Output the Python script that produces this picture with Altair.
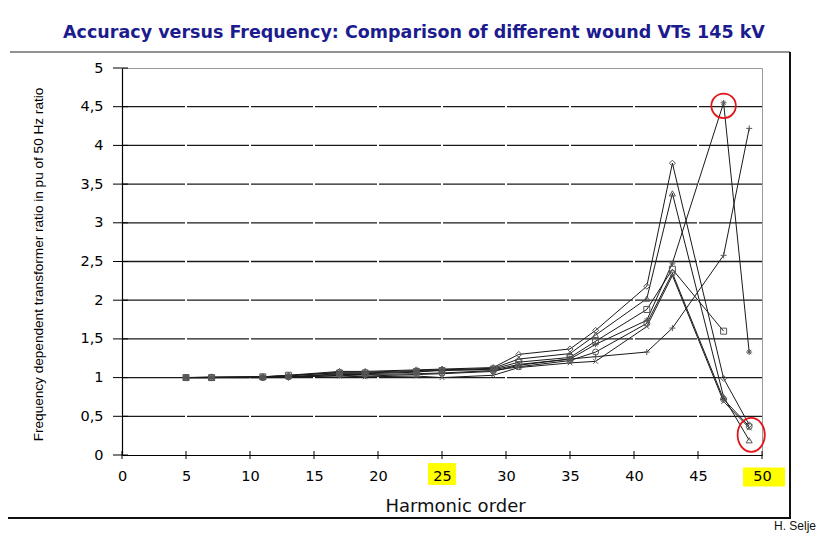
import altair as alt
import pandas as pd

# ---------------- data ----------------
harmonics = [5, 7, 11, 13, 17, 19, 23, 25, 29, 31, 35, 37, 41, 43, 47, 49]

series_names = ["A", "B", "C", "D", "E", "F", "G"]
vt_a = [1.00, 1.00, 1.00, 1.00, 1.03, 1.02, 1.04, 1.05, 1.08, 1.16, 1.24, 1.27, 1.33, 1.64, 2.58, 4.22]
vt_b = [1.00, 1.00, 1.01, 1.01, 1.05, 1.05, 1.07, 1.10, 1.10, 1.17, 1.24, 1.43, 1.74, 2.48, 4.55, 1.33]
vt_c = [1.00, 1.00, 1.01, 1.03, 1.06, 1.06, 1.08, 1.09, 1.11, 1.20, 1.26, 1.47, 1.88, 2.40, 1.60, None]
vt_d = [1.00, 1.01, 1.01, 1.03, 1.08, 1.08, 1.10, 1.11, 1.13, 1.30, 1.37, 1.61, 2.18, 3.77, 0.99, 0.39]
vt_e = [1.00, 1.00, 1.01, 1.02, 1.07, 1.07, 1.09, 1.10, 1.12, 1.24, 1.31, 1.55, 2.02, 3.38, 0.75, 0.19]
vt_f = [1.00, 1.00, 1.00, 1.01, 1.04, 1.04, 1.05, 1.06, 1.09, 1.14, 1.22, 1.33, 1.70, 2.35, 0.72, 0.37]
vt_g = [1.00, 1.00, 1.00, 1.01, 1.02, 1.01, 1.02, 1.00, 1.03, 1.13, 1.19, 1.21, 1.66, 2.32, 0.69, 0.35]
series_values = [vt_a, vt_b, vt_c, vt_d, vt_e, vt_f, vt_g]

x_ticks = [0, 5, 10, 15, 20, 25, 30, 35, 40, 45, 50]
y_ticks = [0, 0.5, 1, 1.5, 2, 2.5, 3, 3.5, 4, 4.5, 5]
grid_values = [0.5, 1, 1.5, 2, 2.5, 3, 3.5, 4, 4.5]
highlighted_labels = [25, 50]

title_text = "Accuracy versus Frequency: Comparison of different wound VTs 145 kV"
x_title = "Harmonic order"
y_title = "Frequency dependent transformer ratio in pu of 50 Hz ratio"
author = "H. Selje"

# ---------------- build tables ----------------
rows = []
for name, vals in zip(series_names, series_values):
    for h, v in zip(harmonics, vals):
        if v is not None:
            rows.append({"series": name, "h": h, "ratio": v})
df = pd.DataFrame(rows)

# circled annotations derived from the data
peak_b = df[(df.series == "B") & (df.h == 47)].ratio.iloc[0]
low49 = df[(df.h == 49) & (df.ratio < 1)].ratio.mean()
circ1 = pd.DataFrame({"h": [47], "ratio": [peak_b]})
circ2 = pd.DataFrame({"h": [49], "ratio": [low49]})

x_scale = alt.Scale(domain=[0, 50], nice=False)
y_scale = alt.Scale(domain=[0, 5], nice=False)

x_axis = alt.Axis(
    values=x_ticks, title=x_title, titleFont="DejaVu Sans", titleFontSize=18,
    titleFontWeight="normal", titleColor="#111111", titleX=333, titleY=51,
    titleBaseline="middle", titleAlign="center",
    labelFont="DejaVu Sans", labelFontSize=14.5, labelColor="black",
    labelPadding=21, labelBaseline="middle", labelFlush=False, labelOverlap=False,
    ticks=False, tickSize=0, grid=False, domainColor="black", domainWidth=1.2, zindex=1,
)
y_axis = alt.Axis(
    values=y_ticks, labelExpr="replace(format(datum.value, '.1~f'), '.', ',')",
    title=y_title, titleFont="Liberation Sans", titleFontSize=13.6, titleFontWeight="normal",
    titleColor="black", titleAngle=270, titleX=-84, titleY=196,
    titleBaseline="middle", titleAlign="center",
    labelFont="DejaVu Sans", labelFontSize=14.5, labelColor="black",
    labelPadding=19, labelOverlap=False, labelFlush=False,
    ticks=False, tickSize=0, grid=False, domainColor="black", domainWidth=1.2, zindex=1,
)


def X(field):
    return alt.X(field, scale=x_scale, axis=x_axis)


def Y(field):
    return alt.Y(field, scale=y_scale, axis=y_axis)


one = pd.DataFrame({"a": [0]})

# horizontal gridlines
hgrid = alt.Chart(pd.DataFrame({"ratio": grid_values})).mark_rule(
    color="#1a1a1a", strokeWidth=1.3
).encode(y=Y("ratio:Q"))

# white gaps in gridlines at x ticks
vgaps = alt.Chart(pd.DataFrame({"h": x_ticks[1:-1]})).mark_rule(
    color="white", strokeWidth=2
).encode(x=X("h:Q"), y=alt.value(3), y2=alt.value(384))

# outer frame
frame_top = alt.Chart(one).mark_rule(color="#6e6e6e", strokeWidth=1.5).encode(
    x=alt.value(-112), x2=alt.value(668), y=alt.value(-16))
frame_right = alt.Chart(one).mark_rule(color="#111111", strokeWidth=2).encode(
    x=alt.value(668), y=alt.value(-16), y2=alt.value(450))
frame_bottom = alt.Chart(one).mark_rule(color="#111111", strokeWidth=2).encode(
    x=alt.value(-114), x2=alt.value(669), y=alt.value(450))

# yellow highlights behind some tick labels
hl_style = {25: ("M-1,-0.78H1V0.78H-1Z", 28 * 28, 0, 406),
            50: ("M-1,-0.45H1V0.45H-1Z", 42 * 42, 2, 409)}
highlight_layers = []
for lab in highlighted_labels:
    shape, size, dx, py = hl_style[lab]
    highlight_layers.append(
        alt.Chart(pd.DataFrame({"h": [lab]})).mark_point(
            shape=shape, size=size, filled=True, color="#ffff00", opacity=1, xOffset=dx
        ).encode(x=X("h:Q"), y=alt.value(py))
    )

# crossing tick marks
yticks = alt.Chart(pd.DataFrame({"ratio": y_ticks})).mark_rule(color="black", strokeWidth=1).encode(
    y=Y("ratio:Q"), x=alt.value(-9), x2=alt.value(6))
xticks = alt.Chart(pd.DataFrame({"h": x_ticks})).mark_rule(color="black", strokeWidth=1).encode(
    x=X("h:Q"), y=alt.value(383), y2=alt.value(391))

lines = alt.Chart(df).mark_line(color="#1a1a1a", strokeWidth=1).encode(
    x=X("h:Q"), y=Y("ratio:Q"), detail="series:N",
)

marker_shapes = [
    "M-1,0L1,0M0,-1L0,1",
    "M-1,0L1,0M0,-1L0,1M-0.7,-0.7L0.7,0.7M-0.7,0.7L0.7,-0.7",
    "square",
    "diamond",
    "triangle-up",
    "circle",
    "M-0.8,-0.8L0.8,0.8M-0.8,0.8L0.8,-0.8",
]
points = alt.Chart(df).mark_point(filled=False, color="#555555", size=36, strokeWidth=1, opacity=1).encode(
    x=X("h:Q"), y=Y("ratio:Q"),
    shape=alt.Shape("series:N", scale=alt.Scale(domain=series_names, range=marker_shapes), legend=None),
)

red1 = alt.Chart(circ1).mark_point(shape="circle", size=600, filled=False, color="#e3151b",
                                   strokeWidth=1.8, opacity=1, yOffset=3).encode(
    x=X("h:Q"), y=Y("ratio:Q"))
red2 = alt.Chart(circ2).mark_point(
    shape="M-0.8,0A0.8,1 0 1,0 0.8,0A0.8,1 0 1,0 -0.8,0Z", size=34 * 34,
    filled=False, color="#e3151b", strokeWidth=1.8, opacity=1, xOffset=2, yOffset=5).encode(
    x=X("h:Q"), y=Y("ratio:Q"))

author_text = alt.Chart(one).mark_text(
    text=author, font="Liberation Sans", fontSize=12, color="#111111", align="left", baseline="alphabetic"
).encode(x=alt.value(652), y=alt.value(462))

title_mark = alt.Chart(one).mark_text(
    text=title_text, font="DejaVu Sans", fontSize=17.5, fontWeight="bold",
    color="#1c1c8f", align="center", baseline="alphabetic"
).encode(x=alt.value(292), y=alt.value(-30))

chart = alt.layer(
    hgrid, vgaps, frame_top, frame_right, frame_bottom, *highlight_layers,
    lines, points, red1, red2, yticks, xticks, author_text, title_mark,
).properties(
    width=640, height=387,
    autosize=alt.AutoSizeParams(type="none"),
    padding={"left": 114, "top": 60, "right": 54, "bottom": 78},
).configure_view(stroke="#9a9a9a", strokeWidth=1)

chart.save("out.html", embed_options={"renderer": "svg", "actions": False})
